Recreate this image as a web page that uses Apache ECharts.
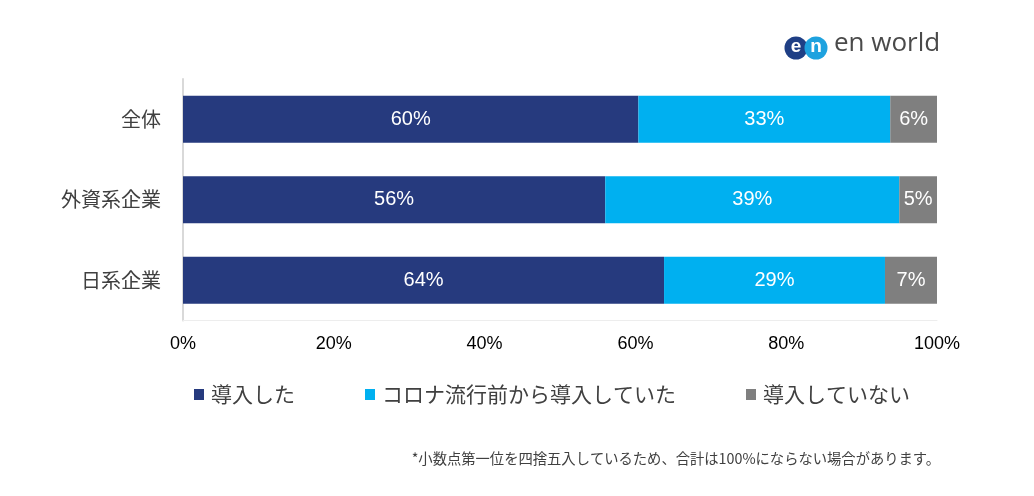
<!DOCTYPE html>
<html>
<head>
<meta charset="utf-8">
<script src="https://cdn.jsdelivr.net/npm/echarts@6/dist/echarts.min.js"></script>
<style>
  html, body { margin: 0; padding: 0; background: #ffffff; }
  #chart { width: 1034px; height: 496px; }
</style>
</head>
<body>
<div id="chart"></div>
<script>
const categories = ['全体', '外資系企業', '日系企業'];
const seriesNames = ['導入した', 'コロナ流行前から導入していた', '導入していない'];
const introduced = [60.4, 56.0, 63.8];
const beforeCovid = [33.4, 39.0, 29.3];
const notIntroduced = [6.2, 5.0, 6.9];
const footnote = '*小数点第一位を四捨五入しているため、合計は100%にならない場合があります。';

const colors = ['#263a7e', '#00b0f0', '#7f7f7f'];
const jpFont = '"Noto Sans CJK JP", sans-serif';
const numFont = '"Liberation Sans", Arial, sans-serif';

const chart = echarts.init(document.getElementById('chart'), null, { renderer: 'canvas' });

function makeSeries(name, data, color) {
  return {
    name: name,
    type: 'bar',
    stack: 'total',
    data: data,
    barWidth: 47,
    itemStyle: { color: color },
    label: {
      show: true,
      position: 'inside',
      color: '#ffffff',
      fontFamily: numFont,
      fontSize: 20,
      formatter: p => Math.round(p.value) + '%'
    },
    emphasis: { disabled: true }
  };
}

chart.setOption({
  animation: false,
  backgroundColor: '#ffffff',
  color: colors,
  grid: { left: 183, right: 97, top: 79, bottom: 175.5, containLabel: false },
  legend: {
    left: 189,
    top: 379,
    icon: 'rect',
    itemWidth: 10,
    itemHeight: 11,
    itemGap: 70,
    textStyle: { fontFamily: jpFont, fontSize: 21, color: '#404040', padding: [0, 0, 0, 2] },
    data: seriesNames
  },
  xAxis: {
    type: 'value',
    min: 0,
    max: 100,
    interval: 20,
    axisLine: { show: true, lineStyle: { color: '#ededed', width: 1 } },
    axisTick: { show: false },
    splitLine: { show: false },
    axisLabel: {
      formatter: '{value}%',
      color: '#000000',
      fontFamily: numFont,
      fontSize: 18,
      margin: 15
    }
  },
  yAxis: {
    type: 'category',
    inverse: true,
    data: categories,
    axisLine: { show: true, lineStyle: { color: '#d9d9d9', width: 2 } },
    axisTick: { show: false },
    axisLabel: {
      color: '#404040',
      fontFamily: jpFont,
      fontSize: 20,
      margin: 22
    }
  },
  series: [
    makeSeries(seriesNames[0], introduced, colors[0]),
    makeSeries(seriesNames[1], beforeCovid, colors[1]),
    makeSeries(seriesNames[2], notIntroduced, colors[2])
  ],
  graphic: [
    { type: 'circle', shape: { cx: 796, cy: 48, r: 11.5 }, style: { fill: '#1f3f85' } },
    { type: 'circle', shape: { cx: 816, cy: 48, r: 11.5 }, style: { fill: '#1ea2df' } },
    { type: 'text', x: 796, y: 47, style: { text: 'e', fill: '#ffffff', font: 'bold 19px "Liberation Sans", Arial', align: 'center', verticalAlign: 'middle' } },
    { type: 'text', x: 816, y: 47, style: { text: 'n', fill: '#ffffff', font: 'bold 19px "Liberation Sans", Arial', align: 'center', verticalAlign: 'middle' } },
    { type: 'text', x: 834, y: 57, style: { text: 'en world', fill: '#4a4a4a', font: '26px "Open Sans", Lato, sans-serif', verticalAlign: 'bottom' } },
    { type: 'text', right: 94, top: 451, style: { text: footnote, fill: '#404040', font: '14.3px "Noto Sans CJK JP", sans-serif' } }
  ]
});
</script>
</body>
</html>
